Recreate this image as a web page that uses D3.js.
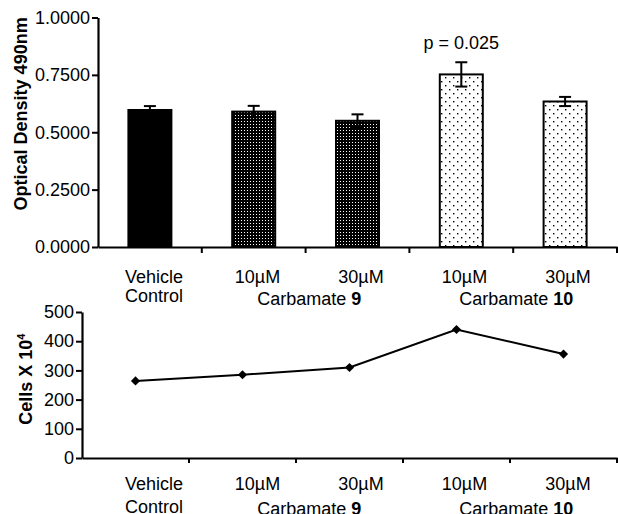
<!DOCTYPE html>
<html>
<head>
<meta charset="utf-8">
<script src="https://cdn.jsdelivr.net/npm/d3@7/dist/d3.min.js"></script>
<style>
  body { margin: 0; background: #fff; }
  svg text { font-family: "Liberation Sans", Arial, sans-serif; fill: #000; }
</style>
</head>
<body>
<div id="chartArea"></div>
<script>
const categories = ["Vehicle Control", "Carb9 10", "Carb9 30", "Carb10 10", "Carb10 30"];
const doseLabels = [["Vehicle", "Control"], ["10µM"], ["30µM"], ["10µM"], ["30µM"]];
const groupLabels = [
  { name: "Carbamate ", num: "9", members: ["Carb9 10", "Carb9 30"] },
  { name: "Carbamate ", num: "10", members: ["Carb10 10", "Carb10 30"] }
];
const odValues = [0.597, 0.590, 0.550, 0.752, 0.634];
const odErrors = [0.017, 0.025, 0.028, 0.053, 0.020];
const odFills = ["solid", "dense", "dense", "light", "light"];
const odTicks = [0, 0.25, 0.5, 0.75, 1.0];
const cellValues = [264, 285, 310, 440, 356];
const cellTicks = [0, 100, 200, 300, 400, 500];

(function() {
  const W = 618, H = 514;
  const svg = d3.select("#chartArea").append("svg")
    .attr("width", W).attr("height", H);

  // fill patterns
  const defs = svg.append("defs");
  const dense = defs.append("pattern").attr("id", "dense")
    .attr("patternUnits", "userSpaceOnUse").attr("width", 3).attr("height", 3);
  dense.append("rect").attr("width", 3).attr("height", 3).attr("fill", "#000");
  dense.append("rect").attr("x", 1).attr("y", 1).attr("width", 1).attr("height", 1).attr("fill", "#fff");
  const light = defs.append("pattern").attr("id", "light")
    .attr("patternUnits", "userSpaceOnUse").attr("width", 8).attr("height", 8);
  light.append("rect").attr("width", 8).attr("height", 8).attr("fill", "#fff");
  light.append("rect").attr("x", 1).attr("y", 1).attr("width", 1.4).attr("height", 1.4).attr("fill", "#000");
  light.append("rect").attr("x", 5).attr("y", 5).attr("width", 1.4).attr("height", 1.4).attr("fill", "#000");
  const fillFor = f => f === "solid" ? "#000" : "url(#" + f + ")";

  // label positions (shared by both panels)
  const labelX = d3.scalePoint().domain(categories).range([154, 568]);

  function catLabels(g, y0, dy, gdy) {
    categories.forEach((c, i) => {
      doseLabels[i].forEach((t, j) => {
        g.append("text").attr("x", labelX(c)).attr("y", y0 + j * dy)
          .attr("text-anchor", "middle").attr("font-size", 18).text(t);
      });
    });
    groupLabels.forEach(gl => {
      const cx = d3.mean(gl.members, m => labelX(m));
      const t = g.append("text").attr("x", cx).attr("y", y0 + gdy)
        .attr("text-anchor", "middle").attr("font-size", 18);
      t.append("tspan").text(gl.name);
      t.append("tspan").attr("font-weight", "bold").text(gl.num);
    });
  }

  function styleAxis(g) {
    g.selectAll("path.domain").attr("stroke", "#000").attr("stroke-width", 2.2);
    g.selectAll(".tick line").attr("stroke", "#000").attr("stroke-width", 2);
    g.selectAll(".tick text").attr("font-size", 18).attr("fill", "#000")
      .attr("font-family", "'Liberation Sans', Arial, sans-serif");
  }

  // ---- top panel: optical density bars ----
  const x1 = d3.scaleBand().domain(categories).range([98, 617]).padding(0);
  const y1 = d3.scaleLinear().domain([0, 1]).range([247, 17.5]);
  const barW = 43;

  const yAxis1 = d3.axisLeft(y1).tickValues(odTicks).tickFormat(d3.format(".4f"))
    .tickSizeInner(6).tickSizeOuter(0).tickPadding(2);
  svg.append("g").attr("transform", "translate(98,0)").call(yAxis1).call(styleAxis);

  const bars = svg.append("g");
  bars.selectAll("rect").data(categories).enter().append("rect")
    .attr("x", d => x1(d) + x1.bandwidth() / 2 - barW / 2)
    .attr("y", (d, i) => y1(odValues[i]))
    .attr("width", barW)
    .attr("height", (d, i) => y1(0) - y1(odValues[i]))
    .attr("fill", (d, i) => fillFor(odFills[i]))
    .attr("stroke", "#000").attr("stroke-width", 2);

  const err = svg.append("g").attr("stroke", "#000").attr("stroke-width", 2);
  categories.forEach((c, i) => {
    const cx = x1(c) + x1.bandwidth() / 2;
    const top = y1(odValues[i] + odErrors[i]);
    const bot = y1(odValues[i] - odErrors[i]);
    err.append("line").attr("x1", cx).attr("x2", cx).attr("y1", top).attr("y2", bot);
    err.append("line").attr("x1", cx - 6).attr("x2", cx + 6).attr("y1", top).attr("y2", top);
    err.append("line").attr("x1", cx - 6).attr("x2", cx + 6).attr("y1", bot).attr("y2", bot);
  });

  const xAxis1 = d3.axisBottom(x1).tickValues([]).tickSizeOuter(0);
  const xg1 = svg.append("g").attr("transform", "translate(0,247)").call(xAxis1);
  xg1.selectAll(".tk").data(categories).enter().append("line")
    .attr("x1", d => x1(d) + x1.bandwidth()).attr("x2", d => x1(d) + x1.bandwidth())
    .attr("y1", 0).attr("y2", 6);
  styleAxis(xg1);
  xg1.selectAll("line").attr("stroke", "#000").attr("stroke-width", 2);

  svg.append("text")
    .attr("x", x1("Carb10 10") + x1.bandwidth() / 2)
    .attr("y", y1(odValues[3] + odErrors[3]) - 13)
    .attr("text-anchor", "middle").attr("font-size", 18).text("p = 0.025");

  svg.append("text")
    .attr("transform", "translate(27," + y1(0.58) + ") rotate(-90)")
    .attr("text-anchor", "middle").attr("font-size", 18).attr("font-weight", "bold")
    .text("Optical Density 490nm");

  catLabels(svg.append("g"), 283, 19, 22);

  // ---- bottom panel: cell counts ----
  const x2 = d3.scaleBand().domain(categories).range([82, 617]).padding(0);
  const y2 = d3.scaleLinear().domain([0, 500]).range([458, 312]);

  const yAxis2 = d3.axisLeft(y2).tickValues(cellTicks)
    .tickSizeInner(6).tickSizeOuter(0).tickPadding(2);
  svg.append("g").attr("transform", "translate(82,0)").call(yAxis2).call(styleAxis);

  const xAxis2 = d3.axisBottom(x2).tickValues([]).tickSizeOuter(0);
  const xg2 = svg.append("g").attr("transform", "translate(0,458)").call(xAxis2);
  xg2.selectAll(".tk").data(categories).enter().append("line")
    .attr("x1", d => x2(d) + x2.bandwidth()).attr("x2", d => x2(d) + x2.bandwidth())
    .attr("y1", 0).attr("y2", 5);
  styleAxis(xg2);
  xg2.selectAll("line").attr("stroke", "#000").attr("stroke-width", 2);

  const line = d3.line()
    .x((d, i) => x2(categories[i]) + x2.bandwidth() / 2)
    .y(d => y2(d));
  svg.append("path").datum(cellValues).attr("d", line)
    .attr("fill", "none").attr("stroke", "#000").attr("stroke-width", 2);
  svg.append("g").selectAll("path").data(cellValues).enter().append("path")
    .attr("d", d3.symbol().type(d3.symbolSquare).size(42))
    .attr("transform", (d, i) => "translate(" + (x2(categories[i]) + x2.bandwidth() / 2) + "," + y2(d) + ") rotate(45)")
    .attr("fill", "#000");

  const yt = svg.append("text")
    .attr("transform", "translate(32," + y2(270) + ") rotate(-90)")
    .attr("text-anchor", "middle").attr("font-size", 18).attr("font-weight", "bold");
  yt.append("tspan").text("Cells X 10");
  yt.append("tspan").attr("font-size", 11).attr("dy", -7).text("4");

  catLabels(svg.append("g"), 490, 23, 25);
})();
</script>
</body>
</html>
